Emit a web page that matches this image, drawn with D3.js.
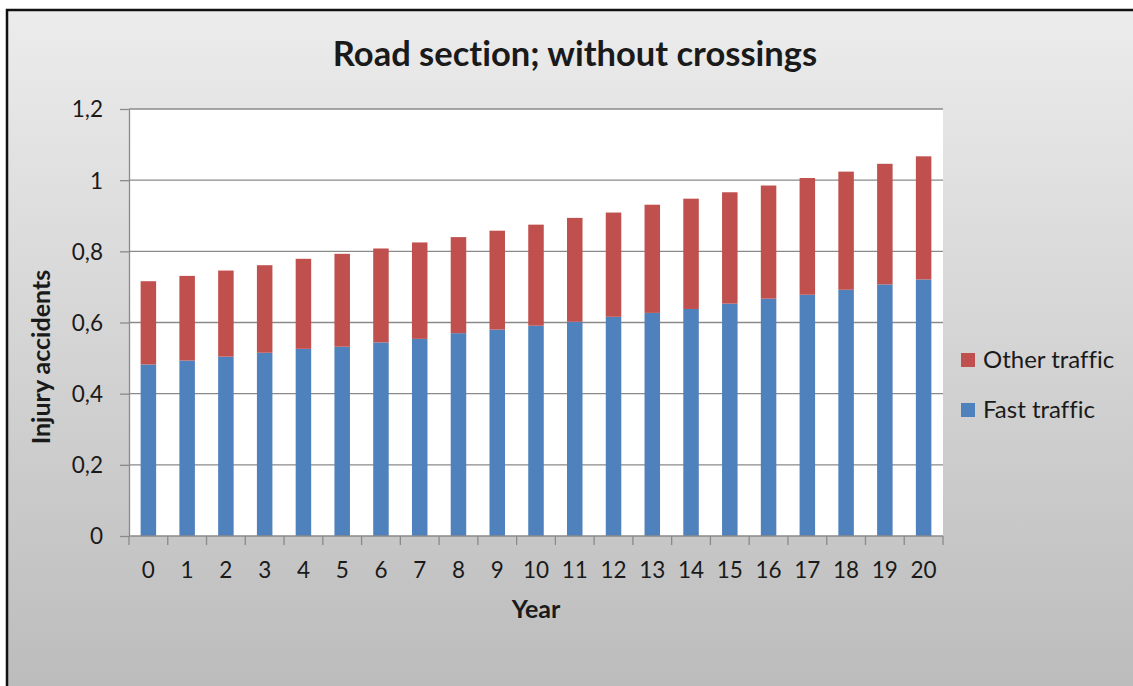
<!DOCTYPE html>
<html>
<head>
<meta charset="utf-8">
<script src="https://cdn.jsdelivr.net/npm/d3@7"></script>
<style>
  html, body { margin: 0; padding: 0; background: #ffffff; }
  svg { display: block; }
  text { font-family: Lato, "Open Sans", "DejaVu Sans", sans-serif; fill: #1a1a1a; font-variant-ligatures: none; font-feature-settings: "liga" 0; }
</style>
</head>
<body>
<svg id="chart" width="1133" height="686"></svg>
<script>
// Injury accidents per year for a road section without crossings
const years = ["0","1","2","3","4","5","6","7","8","9","10","11","12","13","14","15","16","17","18","19","20"];
const fastTraffic  = [0.482,0.493,0.504,0.515,0.526,0.532,0.544,0.554,0.570,0.580,0.591,0.602,0.616,0.627,0.638,0.653,0.667,0.678,0.692,0.707,0.721];
const otherTraffic = [0.234,0.238,0.242,0.246,0.253,0.261,0.264,0.271,0.270,0.278,0.284,0.292,0.293,0.304,0.310,0.313,0.318,0.328,0.332,0.339,0.346];
const seriesNames  = ["Fast traffic", "Other traffic"];
const seriesColors = ["#4F81BD", "#C0504D"];
const yTicks = [0, 0.2, 0.4, 0.6, 0.8, 1.0, 1.2];
const titleText = "Road section; without crossings";
const xTitle = "Year";
const yTitle = "Injury accidents";

const svg = d3.select("#chart");
const W = 1133, H = 686;

// chart area: grey vertical gradient framed by a dark border
const defs = svg.append("defs");
const grad = defs.append("linearGradient").attr("id", "bg").attr("x1", 0).attr("y1", 0).attr("x2", 0).attr("y2", 1);
grad.append("stop").attr("offset", "0%").attr("stop-color", "#ececec");
grad.append("stop").attr("offset", "100%").attr("stop-color", "#bababa");

svg.append("rect").attr("x", 7).attr("y", 10).attr("width", W + 20).attr("height", H + 20)
  .attr("fill", "url(#bg)").attr("stroke", "#111").attr("stroke-width", 2.5);

const plot = { left: 129, right: 943, top: 109, bottom: 536 };

const rows = years.map((y, i) => ({ year: y, "Fast traffic": fastTraffic[i], "Other traffic": otherTraffic[i] }));
const stacked = d3.stack().keys(seriesNames)(rows);

const x = d3.scaleBand().domain(years).range([plot.left, plot.right]).paddingInner(0.6).paddingOuter(0.3);
const xEdge = d3.scaleLinear().domain([0, years.length]).range([plot.left, plot.right]);
const y = d3.scaleLinear().domain([0, 1.2]).range([plot.bottom, plot.top]);

const comma = d3.formatLocale({ decimal: ",", thousands: ".", grouping: [3], currency: ["", ""] }).format("~g");

// plot area
svg.append("rect").attr("x", plot.left).attr("y", plot.top)
  .attr("width", plot.right - plot.left).attr("height", plot.bottom - plot.top).attr("fill", "#ffffff");

// value axis with ticks reaching left of the axis line
const yAxis = svg.append("g").attr("transform", `translate(${plot.left},0)`)
  .call(d3.axisLeft(y).tickValues(yTicks).tickSize(9).tickSizeOuter(0).tickPadding(17).tickFormat(comma));
yAxis.select(".domain").attr("stroke", "#8a8a8a").attr("stroke-width", 1.3);
yAxis.selectAll(".tick line").attr("stroke", "#8a8a8a").attr("stroke-width", 1.3);
yAxis.selectAll(".tick text").attr("font-size", 22.5).attr("font-family", "Lato, sans-serif").attr("fill", "#1a1a1a").attr("dy", "0.35em");

// horizontal gridlines
svg.append("g").selectAll("line").data(yTicks.filter(t => t > 0)).join("line")
  .attr("x1", plot.left).attr("x2", plot.right)
  .attr("y1", d => y(d)).attr("y2", d => y(d))
  .attr("stroke", "#8a8a8a").attr("stroke-width", 1.3);

// stacked bars
svg.append("g").selectAll("g").data(stacked).join("g")
  .attr("fill", (d, i) => seriesColors[i])
  .selectAll("rect").data(d => d).join("rect")
  .attr("x", d => x(d.data.year))
  .attr("width", x.bandwidth())
  .attr("y", d => y(d[1]))
  .attr("height", d => y(d[0]) - y(d[1]));

// category axis with ticks between categories
const xAxis = svg.append("g").attr("transform", `translate(0,${plot.bottom})`)
  .call(d3.axisBottom(x).tickSize(0).tickPadding(26));
xAxis.select(".domain").remove();
xAxis.selectAll(".tick text").attr("font-size", 22.5).attr("font-family", "Lato, sans-serif").attr("fill", "#1a1a1a");
svg.append("line").attr("x1", plot.left).attr("x2", plot.right).attr("y1", plot.bottom).attr("y2", plot.bottom)
  .attr("stroke", "#8a8a8a").attr("stroke-width", 1.3);
svg.append("g").selectAll("line").data(d3.range(years.length + 1)).join("line")
  .attr("x1", d => xEdge(d)).attr("x2", d => xEdge(d))
  .attr("y1", plot.bottom).attr("y2", plot.bottom + 9)
  .attr("stroke", "#8a8a8a").attr("stroke-width", 1.3);

// titles
svg.append("text").attr("x", 575).attr("y", 66).attr("text-anchor", "middle")
  .attr("font-size", 34.5).attr("font-weight", "bold").attr("fill", "#000").text(titleText);
svg.append("text").attr("x", 536).attr("y", 618).attr("text-anchor", "middle")
  .attr("font-size", 25).attr("font-weight", "bold").attr("fill", "#000").text(xTitle);
svg.append("text").attr("transform", "translate(50,357) rotate(-90)").attr("text-anchor", "middle")
  .attr("font-size", 25).attr("font-weight", "bold").attr("fill", "#000").text(yTitle);

// legend, top entry is the upper stack segment
const legendItems = seriesNames.map((n, i) => ({ name: n, color: seriesColors[i] })).reverse();
const legend = svg.append("g").selectAll("g").data(legendItems).join("g")
  .attr("transform", (d, i) => `translate(961,${353 + i * 50})`);
legend.append("rect").attr("width", 14).attr("height", 14).attr("fill", d => d.color);
legend.append("text").attr("x", 22).attr("y", 14.5).attr("font-size", 24).attr("fill", "#1a1a1a").text(d => d.name);
</script>
</body>
</html>
